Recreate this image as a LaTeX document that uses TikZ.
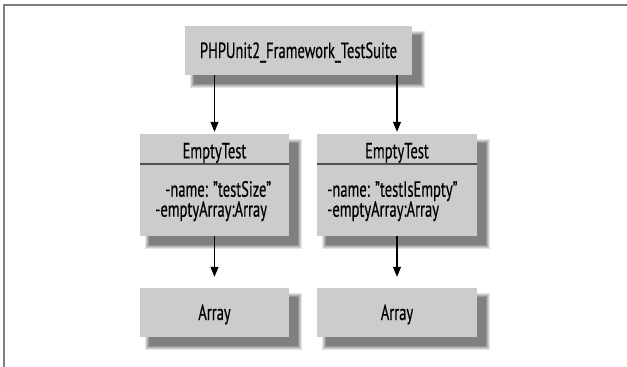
\documentclass[tikz,border=0pt]{standalone}
\usepackage{fontspec}
\setmainfont[FakeStretch=0.66,FakeBold=0.4]{PT Sans}
\usetikzlibrary{arrows.meta,backgrounds}
\definecolor{boxgray}{HTML}{CCCCCC}
\definecolor{framegray}{HTML}{7F7F7F}
\definecolor{sepgray}{HTML}{505050}
\newcommand\qt{\symbol{34}}
\tikzset{
  box/.style={fill=boxgray, draw=none, inner sep=0pt, font=\fontsize{22}{24}\selectfont,
              text height=15pt, text depth=0pt, align=center},
  txt/.style={inner sep=0pt, font=\fontsize{22}{24}\selectfont, anchor=base west},
  arr/.style={draw=black, line width=1.1pt, -{Triangle[length=10pt,width=8pt]}},
  sep/.style={draw=sepgray, line width=1.5pt},
  frameline/.style={draw=framegray, line width=2pt}
}
\newcommand\boxshadow[1]{%
  \foreach \e/\p in {4/10, 3/20, 2/30, 1/40, 0/50}{%
    \fill[black!\p] ([shift={(9-\e,9-\e)}]#1.north west) rectangle ([shift={(9+\e,9+\e)}]#1.south east);
  }%
}
\begin{document}
\begin{tikzpicture}[x=1pt,y=-1pt]
\useasboundingbox (0,0) rectangle (627,367);
% frame
\coordinate (fbl) at (4,367);
\coordinate (ftl) at (4,5);
\coordinate (ftr) at (627,5);
\draw[frameline] (fbl) -- (ftl) -- (ftr);

% boxes
\node[box, minimum width=227pt, minimum height=49pt] (suite) at (298.5,50.5) {PHPUnit2\_Framework\_TestSuite};
\node[box, minimum width=149pt, minimum height=102pt] (et1) at (214.5,185) {};
\node[box, minimum width=160pt, minimum height=102pt] (et2) at (397,185) {};
\node[box, minimum width=149pt, minimum height=49pt] (ar1) at (214.5,312.5) {Array};
\node[box, minimum width=160pt, minimum height=49pt] (ar2) at (397,312.5) {Array};

\begin{scope}[on background layer]
  \boxshadow{suite}
  \boxshadow{et1}
  \boxshadow{et2}
  \boxshadow{ar1}
  \boxshadow{ar2}
\end{scope}

% class box contents
\node[txt, anchor=base] (t1) at (214.5,158.3) {EmptyTest};
\node[txt, anchor=base] (t2) at (397,158.3) {EmptyTest};
\draw[sep] (et1.west |- 0,164) -- (et1.east |- 0,164);
\draw[sep] (et2.west |- 0,164) -- (et2.east |- 0,164);
\node[txt] (a1) at (165,196.7) {-name: \qt testSize\qt};
\node[txt] (b1) at (155,216.7) {-emptyArray:Array};
\node[txt] (a2) at (327,196.7) {-name: \qt testIsEmpty\qt};
\node[txt] (b2) at (327,216.7) {-emptyArray:Array};

% connectors
\draw[arr, shorten >=2pt] (et1.north |- suite.south) -- (et1.north);
\draw[arr, shorten >=2pt] (et2.north |- suite.south) -- (et2.north);
\draw[arr, shorten >=11pt] (et1.south) -- (ar1.north);
\draw[arr, shorten >=11pt] (et2.south) -- (ar2.north);
\end{tikzpicture}
\end{document}
